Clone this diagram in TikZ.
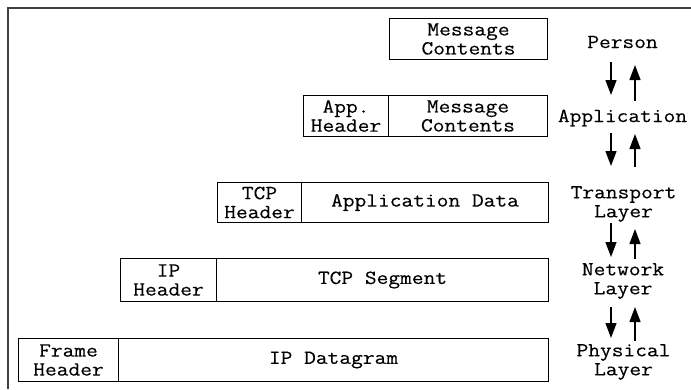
\documentclass[tikz,border=0pt]{standalone}
\usepackage{fontspec}
\newfontfamily\mono{Latin Modern Mono}[FakeStretch=1.14,FakeBold=0.3]
\usetikzlibrary{arrows.meta}
\begin{document}
\begin{tikzpicture}[x=1pt,y=-1pt,
  cell/.style={draw, line width=1pt, inner sep=0pt, anchor=north west,
    align=center, font=\mono\fontsize{20}{19}\selectfont},
  layer/.style={inner sep=0pt, align=center, font=\mono\fontsize{20}{19}\selectfont},
  flow/.style={line width=1.3pt, -{Triangle[length=15pt,width=11pt]}}]
  \useasboundingbox (0,0) rectangle (691,389);
  % frame along the top and left
  \draw[line width=1.4pt, black!75] (8,389) -- (8,8) -- (691,8);

  % encapsulated units, one row per layer
  \node[cell, minimum width=158pt, minimum height=41pt] (msg) at (389,18) {Message\\Contents};

  \node[cell, minimum width=85pt, minimum height=41pt] (apph) at (303,95) {App.\\Header};
  \node[cell, minimum width=159pt, minimum height=41pt] (appd) at (388,95) {Message\\Contents};

  \node[cell, minimum width=84pt, minimum height=40pt] (tcph) at (217,182) {TCP\\Header};
  \node[cell, minimum width=247pt, minimum height=40pt] (tcpd) at (301,182) {Application Data};

  \node[cell, minimum width=96pt, minimum height=43pt] (iph) at (120,258) {IP\\Header};
  \node[cell, minimum width=332pt, minimum height=43pt] (ipd) at (216,258) {TCP Segment};

  \node[cell, minimum width=100pt, minimum height=43pt] (frh) at (18,338) {Frame\\Header};
  \node[cell, minimum width=430pt, minimum height=43pt] (frd) at (118,338) {IP Datagram};

  % layer names
  \node[layer] (person) at (622.5,42) {Person};
  \node[layer] (appl) at (622.5,118) {Application};
  \node[layer] (trans) at (623.5,204) {Transport\\Layer};
  \node[layer] (net) at (623,281) {Network\\Layer};
  \node[layer] (phys) at (623.5,362) {Physical\\Layer};

  % arrow end points between the layer names
  \coordinate (d1a) at (611,62);  \coordinate (d1b) at (611,95);
  \coordinate (u1a) at (635,101); \coordinate (u1b) at (635,65);
  \coordinate (d2a) at (611,133); \coordinate (d2b) at (611,166);
  \coordinate (u2a) at (635,167); \coordinate (u2b) at (635,134);
  \coordinate (d3a) at (611,223); \coordinate (d3b) at (611,257);
  \coordinate (u3a) at (635,259); \coordinate (u3b) at (635,229);
  \coordinate (d4a) at (611,307); \coordinate (d4b) at (611,338);
  \coordinate (u4a) at (635,341); \coordinate (u4b) at (635,307);

  \draw[flow] (d1a) -- (d1b);  \draw[flow] (u1a) -- (u1b);
  \draw[flow] (d2a) -- (d2b);  \draw[flow] (u2a) -- (u2b);
  \draw[flow] (d3a) -- (d3b);  \draw[flow] (u3a) -- (u3b);
  \draw[flow] (d4a) -- (d4b);  \draw[flow] (u4a) -- (u4b);
\end{tikzpicture}
\end{document}
